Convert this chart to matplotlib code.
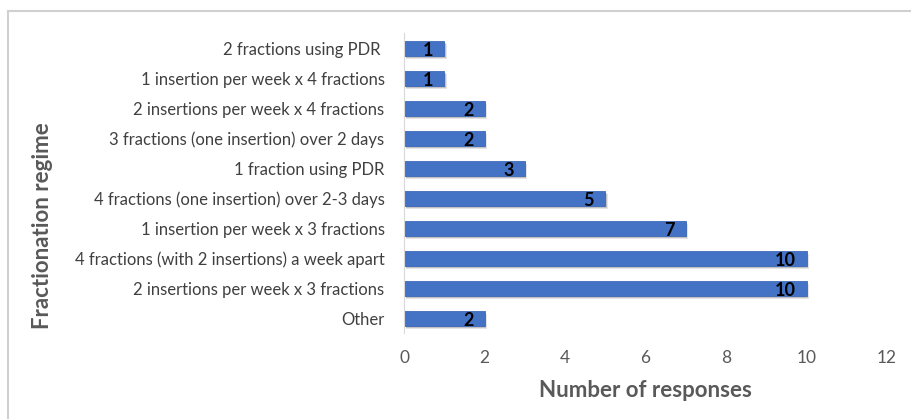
import matplotlib
matplotlib.use("Agg")
import matplotlib.pyplot as plt
from matplotlib.patches import Rectangle

categories = [
    "2 fractions using PDR ",
    "1 insertion per week x 4 fractions",
    "2 insertions per week x 4 fractions",
    "3 fractions (one insertion) over 2 days",
    "1 fraction using PDR",
    "4 fractions (one insertion) over 2-3 days",
    "1 insertion per week x 3 fractions",
    "4 fractions (with 2 insertions) a week apart",
    "2 insertions per week x 3 fractions",
    "Other",
]
values = [1, 1, 2, 2, 3, 5, 7, 10, 10, 2]
xticks = [0, 2, 4, 6, 8, 10, 12]

plt.rcParams['font.family'] = ['Lato', 'DejaVu Sans']

fig = plt.figure(figsize=(9.11, 4.19), dpi=100)
# outer frame
fig.patches.append(Rectangle((8/911, -0.1), 1.2, 1 - 11/419 + 0.1, transform=fig.transFigure,
                             fill=False, edgecolor='#d0d0d0', linewidth=1.5))
ax = fig.add_axes([404/911, 1 - 333/419, (887 - 404)/911, 300/419])

ypos = list(range(len(categories)))
# soft shadow (layered)
for dy, dx, a in [(0.13, 0.06, 0.10), (0.09, 0.04, 0.15), (0.05, 0.02, 0.2)]:
    ax.barh([y + dy for y in ypos], values, left=dx, height=0.5, color='#000000',
            alpha=a, linewidth=0, zorder=1)
ax.barh(ypos, values, height=0.5, color='#4472C4', edgecolor='#3f6bbb', linewidth=0.6, zorder=2)

for y, v in zip(ypos, values):
    ax.annotate(str(v), xy=(v, y), xytext=(-8, -1.5), textcoords='offset points',
                ha='right', va='center', fontsize=13, fontweight='bold', color='black', zorder=3)

ax.set_xlim(0, 12)
ax.set_ylim(len(categories) - 0.5, -0.5)
ax.set_yticks(ypos)
ax.set_yticklabels(categories, fontsize=12, color='#404040')
ax.set_xticks(xticks)
ax.set_xticklabels([str(t) for t in xticks], fontsize=12.5, color='#595959')
ax.tick_params(axis='both', length=0)
ax.tick_params(axis='y', pad=14)
ax.tick_params(axis='x', pad=12)
for s in ['top', 'right', 'bottom']:
    ax.spines[s].set_visible(False)
ax.spines['left'].set_color('#d9d9d9')
ax.set_xlabel("Number of responses", fontsize=16, fontweight='bold', color='#595959', labelpad=10)
fig.text(43/911, 1 - 226/419, "Fractionation regime", rotation=90, ha='center', va='center',
         fontsize=16, fontweight='bold', color='#595959')

fig.savefig("out.png", dpi=100)
